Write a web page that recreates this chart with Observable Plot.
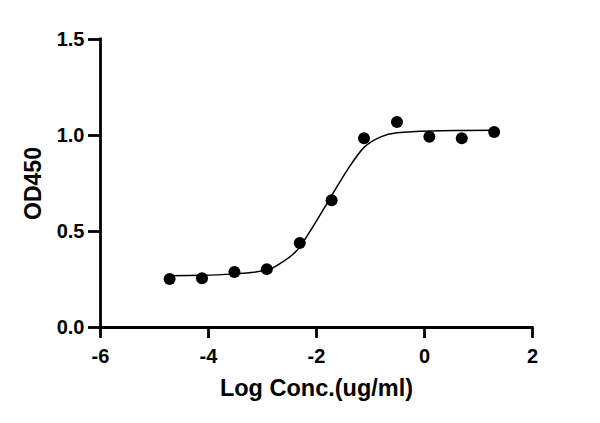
<!DOCTYPE html>
<html>
<head>
<meta charset="utf-8">
<script src="https://cdn.jsdelivr.net/npm/d3@7"></script>
<script src="https://cdn.jsdelivr.net/npm/@observablehq/plot@0.6"></script>
<style>
  html, body { margin: 0; padding: 0; background: #fff; }
  #chart { width: 600px; height: 423px; }
</style>
</head>
<body>
<div id="chart"></div>
<script>
// Measured points (log concentration vs OD450)
const logConc = [-4.72, -4.12, -3.52, -2.92, -2.31, -1.72, -1.12, -0.51, 0.09, 0.69, 1.29];
const od450 = [0.252, 0.257, 0.289, 0.304, 0.440, 0.663, 0.986, 1.070, 0.993, 0.986, 1.018];

// Fitted curve
const curveX = [-4.72, -4.12, -3.59, -2.91, -2.67, -2.36, -2.05, -1.74, -1.43, -1.12, -0.81, -0.51, 0.11, 0.70, 1.29];
const curveY = [0.270, 0.272, 0.278, 0.299, 0.334, 0.402, 0.532, 0.677, 0.820, 0.938, 0.993, 1.014, 1.024, 1.026, 1.027];

const xTicks = [-6, -4, -2, 0, 2];
const yTicks = [0, 0.5, 1.0, 1.5];
const xLabel = "Log Conc.(ug/ml)";
const yLabel = "OD450";

const points = logConc.map((x, i) => ({x, y: od450[i]}));
const curve = curveX.map((x, i) => ({x, y: curveY[i]}));

const font = "Liberation Sans, Arial, sans-serif";

const chart = Plot.plot({
  width: 600,
  height: 423,
  marginLeft: 100,
  marginRight: 68,
  marginTop: 39,
  marginBottom: 96,
  style: {fontFamily: font, background: "#fff", color: "#000"},
  x: {domain: [-6, 2]},
  y: {domain: [0, 1.5]},
  marks: [
    Plot.axisX({ticks: xTicks, tickFormat: d => String(d), tickSize: 11, tickPadding: 10, strokeWidth: 2.8, fontSize: 20, fontWeight: "bold", label: null}),
    Plot.axisY({ticks: yTicks, tickFormat: d3.format(".1f"), tickSize: 12, tickPadding: 4, strokeWidth: 2.8, fontSize: 20, fontWeight: "bold", label: null}),
    Plot.ruleX([-6], {strokeWidth: 2.8, strokeLinecap: "square"}),
    Plot.ruleY([0], {strokeWidth: 2.8, strokeLinecap: "square"}),
    Plot.line(curve, {x: "x", y: "y", curve: "monotone-x", stroke: "#000", strokeWidth: 1.5}),
    Plot.dot(points, {x: "x", y: "y", r: 6, fill: "#000", stroke: "none"}),
    Plot.text([xLabel], {frameAnchor: "bottom", dy: 61, lineAnchor: "middle", textAnchor: "middle", fontSize: 23.5, fontWeight: "bold", text: d => d}),
    Plot.text([yLabel], {frameAnchor: "left", dx: -67, lineAnchor: "middle", textAnchor: "middle", rotate: -90, fontSize: 23, fontWeight: "bold", text: d => d})
  ]
});
document.getElementById("chart").appendChild(chart);
</script>
</body>
</html>
